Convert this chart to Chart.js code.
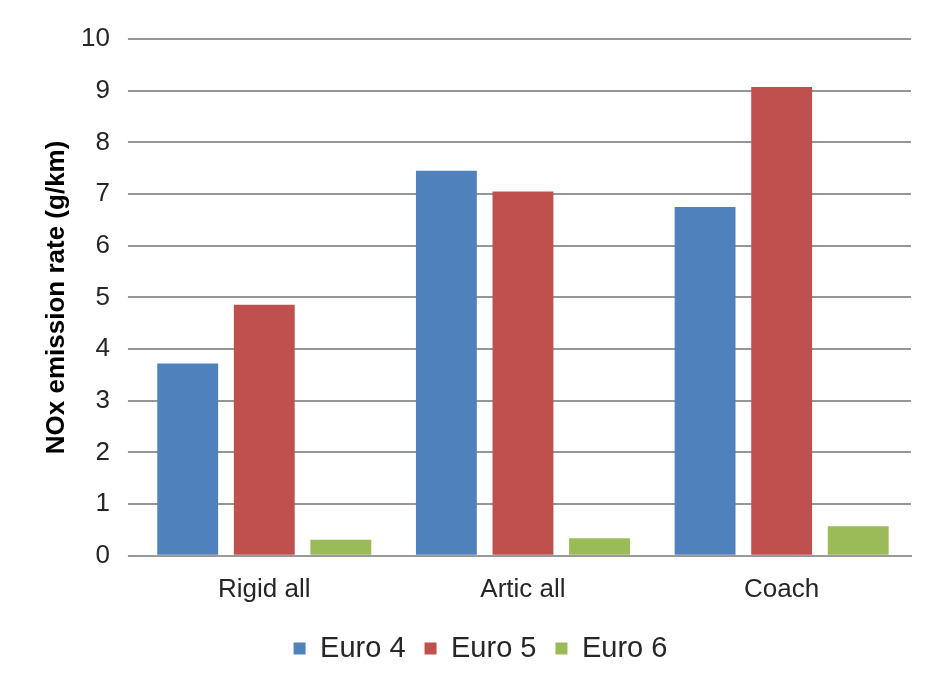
<!DOCTYPE html>
<html>
<head>
<meta charset="utf-8">
<script src="https://cdn.jsdelivr.net/npm/chart.js@4"></script>
<style>
  body { margin: 0; background: #fff; }
  #wrap { width: 926px; height: 680px; }
</style>
</head>
<body>
<div id="wrap"><canvas id="graphCanvas" width="926" height="680"></canvas></div>
<script>
var categories = ['Rigid all', 'Artic all', 'Coach'];
var euro4 = [3.72, 7.45, 6.75];
var euro5 = [4.86, 7.05, 9.07];
var euro6 = [0.31, 0.34, 0.57];

var font = 'Liberation Sans, Arial, sans-serif';

var chartdata = {
    labels: categories,
    datasets: [{
        label: 'Euro 4',
        backgroundColor: '#4F81BD',
        data: euro4
    }, {
        label: 'Euro 5',
        backgroundColor: '#C0504D',
        data: euro5
    }, {
        label: 'Euro 6',
        backgroundColor: '#9BBB59',
        data: euro6
    }]
};

new Chart(document.getElementById('graphCanvas'), {
    type: 'bar',
    data: chartdata,
    options: {
        responsive: false,
        animation: false,
        layout: { padding: { left: 50, right: 15, top: 39, bottom: 7 } },
        datasets: { bar: { barPercentage: 0.795, categoryPercentage: 0.888 } },
        plugins: {
            legend: {
                position: 'bottom',
                labels: {
                    font: { family: font, size: 29 },
                    color: '#262626',
                    boxWidth: 12,
                    boxHeight: 12,
                    padding: 19
                }
            },
            tooltip: { enabled: false }
        },
        scales: {
            x: {
                grid: { display: false },
                border: { color: '#999', width: 2 },
                ticks: { font: { family: font, size: 26 }, color: '#262626', padding: 10 }
            },
            y: {
                min: 0,
                max: 10,
                ticks: { stepSize: 1, font: { family: font, size: 26 }, color: '#262626', padding: 18 },
                grid: { color: '#969696', lineWidth: 2, tickLength: 7 },
                border: { display: false },
                title: {
                    display: true,
                    text: 'NOx emission rate (g/km)',
                    font: { family: font, size: 26, weight: 'bold', lineHeight: 0.5 },
                    color: '#000',
                    padding: { top: 0, bottom: 0 }
                }
            }
        }
    }
});
</script>
</body>
</html>
